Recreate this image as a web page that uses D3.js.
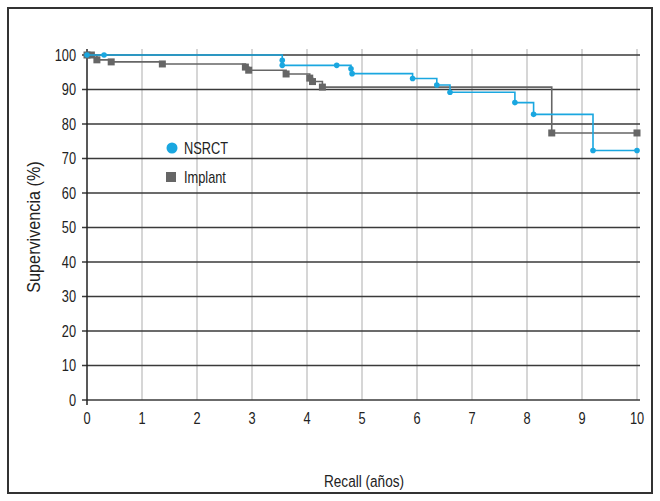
<!DOCTYPE html>
<html><head><meta charset="utf-8">
<script src="https://cdn.jsdelivr.net/npm/d3@7"></script>
<style>
body{margin:0;background:#fff;}
text{font-family:"Liberation Sans","Arial",sans-serif;fill:#222;}
</style></head><body>
<svg id="c" width="660" height="501"></svg>
<script>
const xTicks = [0,1,2,3,4,5,6,7,8,9,10];
const yTicks = [0,10,20,30,40,50,60,70,80,90,100];
const seriesNames = ["NSRCT","Implant"];
const nsrctTime = [0,0.31,3.55,3.55,4.54,4.8,4.82,5.92,6.36,6.6,7.78,8.12,9.2,10];
const nsrctSurv = [100,100,98.5,97,97,96,94.6,93.2,91.3,89.2,86.2,82.8,72.3,72.3];
const implantTime = [0,0.08,0.18,0.44,1.37,2.88,2.94,3.62,4.05,4.1,4.28,8.45,10];
const implantSurv = [100,100,98.6,98,97.4,96.5,95.6,94.5,93.3,92.3,90.7,77.4,77.4];
const colors = {NSRCT:"#1aa7e0", Implant:"#666666"};
const SX = 0.8; // condensed look

const svg = d3.select("#c");
svg.append("rect").attr("x",8).attr("y",8).attr("width",644).attr("height",485)
  .attr("fill","none").attr("stroke","#333").attr("stroke-width",2);

const x = d3.scaleLinear().domain([0,10]).range([87,637]);
const y = d3.scaleLinear().domain([0,100]).range([400,55]);

function ctext(g, tx, ty, size, anchor, str, rot, sx){
  return g.append("text")
    .attr("transform",`translate(${tx},${ty})${rot?` rotate(${rot})`:""} scale(${sx||SX},1)`)
    .attr("font-size",size).attr("text-anchor",anchor).attr("dy","0.36em").text(str);
}

// vertical grid
svg.append("g").selectAll("line").data(xTicks.slice(1)).join("line")
  .attr("x1",d=>x(d)).attr("x2",d=>x(d)).attr("y1",49).attr("y2",400)
  .attr("stroke","#c8c8c8").attr("stroke-width",1.5);
// horizontal grid
svg.append("g").selectAll("line").data(yTicks).join("line")
  .attr("x1",82).attr("x2",640).attr("y1",d=>y(d)).attr("y2",d=>y(d))
  .attr("stroke","#3a3a3a").attr("stroke-width",1.5);
// y axis line
svg.append("line").attr("x1",x(0)).attr("x2",x(0)).attr("y1",49).attr("y2",405)
  .attr("stroke","#222").attr("stroke-width",1.5);

const lab = svg.append("g");
yTicks.forEach(d=>ctext(lab, 76, y(d), 16, "end", d));
xTicks.forEach(d=>ctext(lab, x(d), 418, 16, "middle", d));
ctext(lab, 364, 481, 17, "middle", "Recall (años)");
ctext(lab, 34, 227, 18, "middle", "Supervivencia (%)", -90, 0.9);

function series(name, times, survs){
  const pts = times.map((t,i)=>[t,survs[i]]);
  const stepPts = [];
  pts.forEach((p,i)=>{ if(i>0) stepPts.push([p[0],pts[i-1][1]]); stepPts.push(p); });
  svg.append("path").datum(stepPts)
    .attr("d",d3.line().x(d=>x(d[0])).y(d=>y(d[1])))
    .attr("fill","none").attr("stroke",colors[name]).attr("stroke-width",1.6);
  const g = svg.append("g");
  if(name==="NSRCT"){
    g.selectAll("circle").data(pts).join("circle")
      .attr("cx",d=>x(d[0])).attr("cy",d=>y(d[1])).attr("r",2.8).attr("fill",colors[name]);
  } else {
    g.selectAll("rect").data(pts).join("rect")
      .attr("x",d=>x(d[0])-3.5).attr("y",d=>y(d[1])-3.5).attr("width",7).attr("height",7)
      .attr("fill",colors[name]);
  }
}
series("Implant", implantTime, implantSurv);
series("NSRCT", nsrctTime, nsrctSurv);

// legend
svg.append("circle").attr("cx",172).attr("cy",148).attr("r",5.5).attr("fill",colors.NSRCT);
ctext(lab, 184, 148, 16, "start", seriesNames[0]);
svg.append("rect").attr("x",166).attr("y",172).attr("width",10).attr("height",10).attr("fill",colors.Implant);
ctext(lab, 184, 177, 16, "start", seriesNames[1]);
</script></body></html>
